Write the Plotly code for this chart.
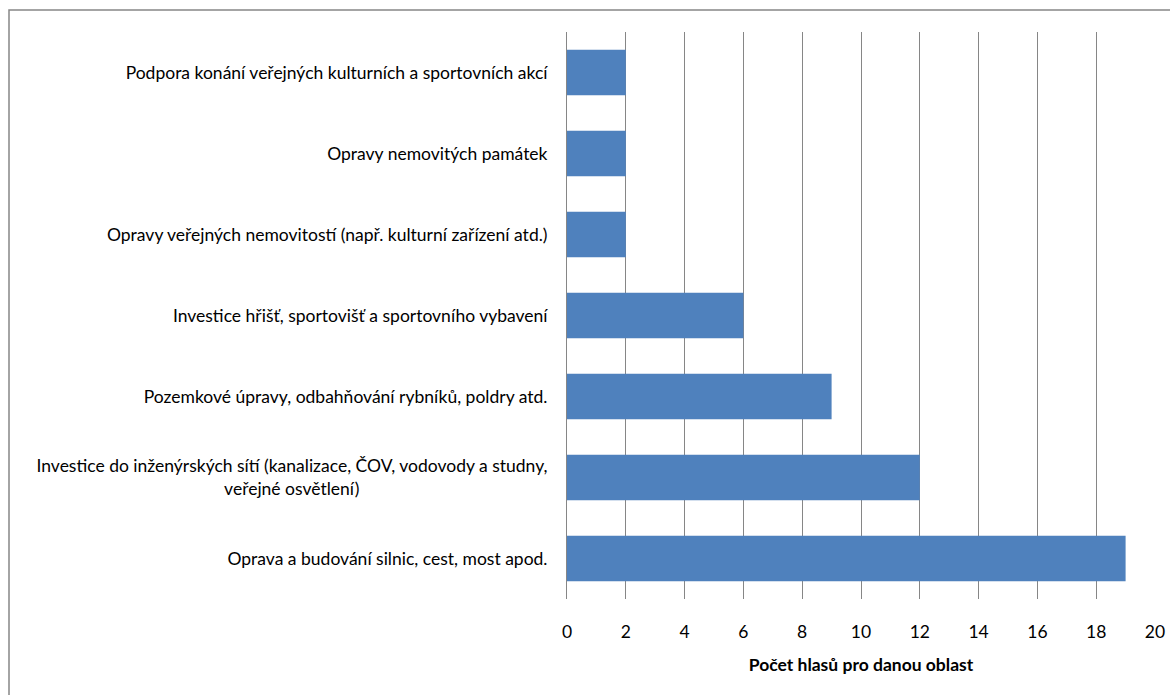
import plotly.graph_objects as go

categories = [
    "Oprava a budování silnic, cest, most apod.",
    "Investice do inženýrských sítí (kanalizace, ČOV, vodovody a studny,<br>veřejné osvětlení)" + "\u00a0" * 42,
    "Pozemkové úpravy, odbahňování rybníků, poldry atd.",
    "Investice hřišť, sportovišť a sportovního vybavení",
    "Opravy veřejných nemovitostí (např. kulturní zařízení atd.)",
    "Opravy nemovitých památek",
    "Podpora konání veřejných kulturních a sportovních akcí",
]
values = [19, 12, 9, 6, 2, 2, 2]
x_ticks = list(range(0, 21, 2))
x_title = "Počet hlasů pro danou oblast"

FONT = "Lato, 'Open Sans', sans-serif"
FS = 17.5

L, T, PW, PH = 567, 32, 588, 567
W, H = 1170, 695

fig = go.Figure(go.Bar(
    x=values, y=categories, orientation="h",
    marker=dict(color="#4F81BD", line=dict(width=0)),
    width=0.56,
))

fig.update_layout(
    width=W, height=H,
    margin=dict(l=L, r=W - L - PW, t=T, b=H - T - PH),
    paper_bgcolor="white", plot_bgcolor="white",
    font=dict(family=FONT, size=FS, color="#000000"),
    showlegend=False,
    bargap=0.44,
    xaxis=dict(
        range=[0, 20], tickvals=x_ticks, showgrid=True, gridcolor="#868686", gridwidth=1,
        zeroline=False, showline=False, ticks="", ticklabelstandoff=20,
        title=dict(text="<b>" + x_title + "</b>", standoff=18, font=dict(size=FS)),
        tickfont=dict(size=FS), automargin=False,
    ),
    yaxis=dict(
        showgrid=False, zeroline=False, showline=True, linecolor="#868686", linewidth=1,
        ticks="", ticklabelstandoff=15, tickfont=dict(size=FS), automargin=False,
    ),
    shapes=[dict(type="rect", xref="paper", yref="paper",
                 x0=(9 - L) / PW, x1=1.2, y0=-0.5, y1=1 + (T - 10) / PH,
                 line=dict(color="#868686", width=1.5), fillcolor="rgba(0,0,0,0)", layer="below")],
)

fig.write_html(
    "out.html",
    config={"displayModeBar": False},
    post_script="document.body.style.margin='0px';"
                "document.documentElement.style.overflow='hidden';"
                "document.body.style.overflow='hidden';",
)
